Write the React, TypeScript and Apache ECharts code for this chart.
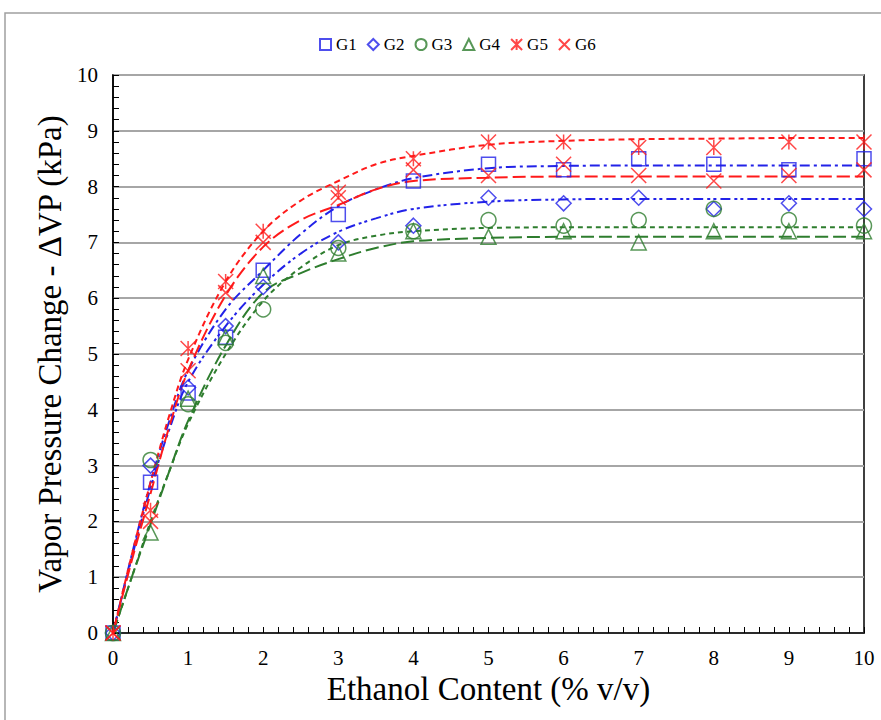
import React, { useEffect, useRef } from "react";
import * as echarts from "echarts";

// Measured points
const xs = [0, 0.5, 1, 1.5, 2, 3, 4, 5, 6, 7, 8, 9, 10];
const G1 = [0, 2.7, 4.3, 5.3, 6.5, 7.5, 8.1, 8.4, 8.3, 8.5, 8.4, 8.3, 8.5];
const G2 = [0, 3.0, 4.4, 5.5, 6.2, 7.0, 7.3, 7.8, 7.7, 7.8, 7.6, 7.7, 7.6];
const G3 = [0, 3.1, 4.1, 5.2, 5.8, 6.9, 7.2, 7.4, 7.3, 7.4, 7.6, 7.4, 7.3];
const G4 = [0, 1.8, 4.2, 5.3, 6.4, 6.8, 7.2, 7.1, 7.2, 7.0, 7.2, 7.2, 7.2];
const G5 = [0, 2.2, 5.1, 6.3, 7.2, 7.9, 8.5, 8.8, 8.8, 8.7, 8.7, 8.8, 8.8];
const G6 = [0, 2.0, 4.7, 6.1, 7.0, 7.8, 8.3, 8.2, 8.4, 8.2, 8.1, 8.2, 8.3];

// Fitted trend curves
const cx = [0, 0.25, 0.5, 0.75, 1, 1.5, 2, 2.5, 3, 3.5, 4, 5, 6, 7, 8, 9, 10];
const F1 = [0, 1.4, 2.7, 3.8, 4.7, 5.8, 6.5, 7.15, 7.65, 7.95, 8.15, 8.33, 8.37, 8.38, 8.38, 8.38, 8.38];
const F2 = [0, 1.35, 2.6, 3.65, 4.5, 5.5, 6.24, 6.8, 7.19, 7.43, 7.6, 7.73, 7.77, 7.78, 7.78, 7.78, 7.78];
const F3 = [0, 1.0, 2.0, 2.9, 3.75, 5.0, 5.95, 6.55, 6.95, 7.12, 7.2, 7.26, 7.27, 7.27, 7.27, 7.27, 7.27];
const F4 = [0, 1.0, 1.95, 2.9, 3.8, 5.15, 6.1, 6.45, 6.7, 6.9, 7.02, 7.08, 7.1, 7.1, 7.1, 7.1, 7.1];
const F5 = [0, 1.4, 2.7, 3.9, 4.9, 6.3, 7.2, 7.75, 8.1, 8.4, 8.55, 8.75, 8.82, 8.85, 8.86, 8.87, 8.87];
const F6 = [0, 1.3, 2.5, 3.7, 4.7, 6.05, 6.92, 7.4, 7.67, 7.95, 8.1, 8.16, 8.18, 8.18, 8.18, 8.18, 8.18];

const names = ["G1", "G2", "G3", "G4", "G5", "G6"];

const BLUE = "#2222e8";
const GREEN = "#2e7d2e";
const RED = "#ff1a1a";

const FONT = "'Liberation Serif', 'DejaVu Serif', serif";

export default function App() {
  const ref = useRef<HTMLDivElement>(null);
  useEffect(() => {
    if (!ref.current) return;
    const chart = echarts.init(ref.current, null, { renderer: "svg" });

    const measured = [G1, G2, G3, G4, G5, G6];
    const fits = [F1, F2, F3, F4, F5, F6];
    const colors = [BLUE, BLUE, GREEN, GREEN, RED, RED];
    const symbols = [
      "rect",
      "diamond",
      "circle",
      "triangle",
      "path://M0 0L10 10M10 0L0 10M5 0L5 10",
      "path://M0 0L10 10M10 0L0 10",
    ];
    const sizes = [14, 15, 15, 15, 15, 15];
    const dashes: number[][] = [
      [10, 4, 3, 4],
      [10, 4, 3, 3, 3, 4],
      [5, 4],
      [13, 5],
      [6, 4],
      [13, 5],
    ];

    const series: any[] = [];
    fits.forEach((f, i) => {
      series.push({
        type: "line",
        name: names[i] + " fit",
        data: cx.map((x, j) => [x, f[j]]),
        smooth: 0.35,
        symbol: "none",
        showSymbol: false,
        lineStyle: { color: colors[i], width: 2, type: dashes[i] },
        z: 2,
        silent: true,
      });
    });
    measured.forEach((m, i) => {
      series.push({
        type: "scatter",
        name: names[i],
        data: xs.map((x, j) => [x, m[j]]),
        symbol: symbols[i],
        symbolSize: sizes[i],
        itemStyle: { color: "rgba(255,255,255,0)", borderColor: colors[i], borderWidth: 1.5 },
        z: 3,
      });
    });

    chart.setOption({
      animation: false,
      backgroundColor: "#ffffff",
      textStyle: { fontFamily: FONT },
      graphic: [
        {
          type: "rect",
          shape: { x: 5, y: 13, width: 1000, height: 1000 },
          style: { fill: "none", stroke: "#a0a0a0", lineWidth: 1.5 },
          silent: true,
        },
      ],
      legend: {
        data: names,
        left: 314,
        top: 31,
        itemWidth: 11,
        itemHeight: 11,
        itemGap: 10,
        textStyle: { fontSize: 17, color: "#000", fontFamily: FONT },
      },
      grid: {
        left: 113,
        right: 17,
        top: 75,
        bottom: 87,
        show: true,
        borderColor: "#000",
        borderWidth: 1.5,
      },
      xAxis: {
        type: "value",
        min: 0,
        max: 10,
        interval: 1,
        name: "Ethanol Content (% v/v)",
        nameLocation: "middle",
        nameGap: 39,
        nameTextStyle: { fontSize: 33, color: "#000", fontFamily: FONT },
        axisLine: { show: true, onZero: false, lineStyle: { color: "#000", width: 1.5 } },
        axisTick: { show: true, inside: true, length: 6, lineStyle: { color: "#000" } },
        minorTick: { show: true, splitNumber: 5, length: 6, lineStyle: { color: "#000" } },
        axisLabel: { fontSize: 21, color: "#000", margin: 14, fontFamily: FONT },
        splitLine: { show: false },
      },
      yAxis: {
        type: "value",
        min: 0,
        max: 10,
        interval: 1,
        name: "Vapor Pressure Change - ΔVP (kPa)",
        nameLocation: "middle",
        nameGap: 44,
        nameTextStyle: { fontSize: 33, color: "#000", fontFamily: FONT },
        axisLine: { show: true, onZero: false, lineStyle: { color: "#000", width: 1.5 } },
        axisTick: { show: true, inside: true, length: 6, lineStyle: { color: "#000" } },
        minorTick: { show: true, splitNumber: 5, length: 6, lineStyle: { color: "#000" } },
        axisLabel: { fontSize: 21, color: "#000", margin: 15, fontFamily: FONT },
        splitLine: { show: true, lineStyle: { color: "#a6a6a6", width: 2 } },
      },
      series,
    });
    return () => chart.dispose();
  }, []);
  return (
    <div
      ref={ref}
      style={{ position: "fixed", left: 0, top: 0, width: 881, height: 720, background: "#fff" }}
    />
  );
}
